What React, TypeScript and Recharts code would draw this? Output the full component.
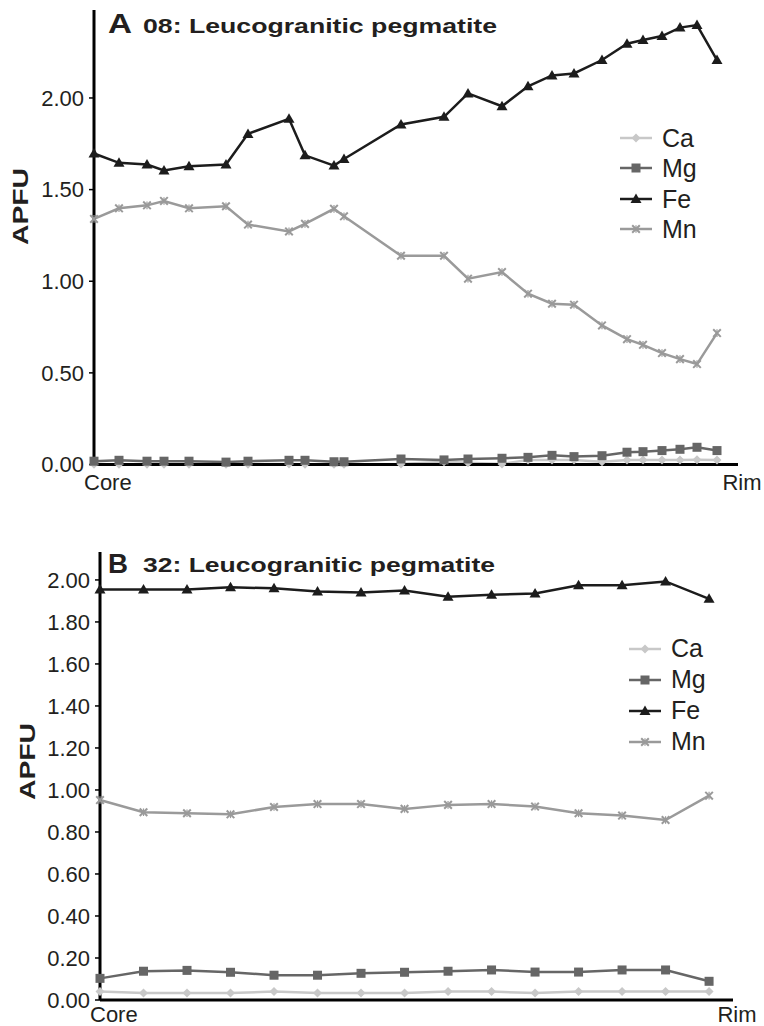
import React from 'react';
import { LineChart, Line, XAxis, YAxis, Legend } from 'recharts';

// ---- Panel A: sample 08, spots along the traverse (irregular spacing) ----
const distA = [0, 25, 53, 70, 95, 132, 154, 195, 211, 240, 250, 307, 350, 374, 408, 434, 458, 480, 508, 533, 549, 568, 586, 603, 623];
const caA = [0.002, 0.002, 0.002, 0.002, 0.002, 0.002, 0.002, 0.003, 0.002, 0.002, 0.002, 0.003, 0.015, 0.01, 0.003, 0.025, 0.025, 0.025, 0.015, 0.025, 0.025, 0.025, 0.025, 0.026, 0.025];
const mgA = [0.018, 0.023, 0.018, 0.018, 0.018, 0.013, 0.018, 0.023, 0.023, 0.015, 0.015, 0.03, 0.025, 0.03, 0.034, 0.039, 0.05, 0.043, 0.048, 0.067, 0.07, 0.076, 0.083, 0.094, 0.076];
const feA = [1.697, 1.646, 1.637, 1.604, 1.627, 1.637, 1.804, 1.886, 1.687, 1.631, 1.667, 1.855, 1.897, 2.025, 1.955, 2.064, 2.123, 2.134, 2.207, 2.296, 2.316, 2.338, 2.384, 2.398, 2.207];
const mnA = [1.34, 1.398, 1.414, 1.438, 1.398, 1.409, 1.309, 1.272, 1.313, 1.395, 1.354, 1.139, 1.139, 1.014, 1.05, 0.932, 0.877, 0.872, 0.759, 0.684, 0.653, 0.608, 0.575, 0.548, 0.717];
const traverseEndA = 644;
const yMaxA = 2.48;
const yTicksA = [0, 0.5, 1, 1.5, 2];

// ---- Panel B: sample 32, evenly spaced spots ----
const spotB = [0, 1, 2, 3, 4, 5, 6, 7, 8, 9, 10, 11, 12, 13, 14];
const caB = [0.04, 0.033, 0.033, 0.033, 0.04, 0.033, 0.033, 0.033, 0.04, 0.04, 0.033, 0.04, 0.04, 0.04, 0.04];
const mgB = [0.103, 0.137, 0.141, 0.132, 0.118, 0.118, 0.127, 0.132, 0.137, 0.143, 0.133, 0.133, 0.143, 0.143, 0.089];
const feB = [1.955, 1.955, 1.955, 1.965, 1.96, 1.945, 1.94, 1.95, 1.92, 1.93, 1.935, 1.975, 1.975, 1.993, 1.91];
const mnB = [0.952, 0.894, 0.889, 0.884, 0.919, 0.933, 0.933, 0.91, 0.929, 0.933, 0.921, 0.889, 0.878, 0.857, 0.973];
const traverseEndB = 14.55;
const yMaxB = 2.133;
const yTicksB = [0, 0.2, 0.4, 0.6, 0.8, 1.0, 1.2, 1.4, 1.6, 1.8, 2.0];

const edgeLabels = ['Core', 'Rim'];
const seriesNames = ['Ca', 'Mg', 'Fe', 'Mn'];

const FONT = '"Liberation Sans", Arial, Helvetica, sans-serif';
const TEXT = '#231f20';
const COLORS: Record<string, string> = { Ca: '#c8c8c8', Mg: '#666666', Fe: '#1c1c1c', Mn: '#9a9a9a' };

const rowsA = distA.map((d, i) => ({ d, Ca: caA[i], Mg: mgA[i], Fe: feA[i], Mn: mnA[i] }));
const rowsB = spotB.map((d, i) => ({ d, Ca: caB[i], Mg: mgB[i], Fe: feB[i], Mn: mnB[i] }));

// marker shapes, drawn around (cx, cy)
function markerPath(name: string, cx: number, cy: number): React.ReactNode {
  const c = COLORS[name];
  if (name === 'Ca') {
    const r = 4.5;
    return <path d={`M${cx},${cy - r}L${cx + r},${cy}L${cx},${cy + r}L${cx - r},${cy}Z`} fill={c} />;
  }
  if (name === 'Mg') {
    const r = 4.5;
    return <rect x={cx - r} y={cy - r} width={2 * r} height={2 * r} fill={c} />;
  }
  if (name === 'Fe') {
    return <path d={`M${cx},${cy - 5.5}L${cx + 5.5},${cy + 4}L${cx - 5.5},${cy + 4}Z`} fill={c} />;
  }
  const r = 3.8;
  return (
    <g stroke={c} strokeWidth={2}>
      <line x1={cx - r} y1={cy - r} x2={cx + r} y2={cy + r} />
      <line x1={cx - r} y1={cy + r} x2={cx + r} y2={cy - r} />
      <line x1={cx} y1={cy - r} x2={cx} y2={cy + r} strokeWidth={1.2} />
    </g>
  );
}

const makeDot = (name: string) => (props: any) => {
  const { cx, cy, index } = props;
  if (cx == null || cy == null) return <g key={`${name}-${index}`} />;
  return <g key={`${name}-${index}`}>{markerPath(name, cx, cy)}</g>;
};

const makeEdgeTick = (baseline: number) => (props: any) => {
  const { x, y, index } = props;
  const first = index === 0;
  return (
    <text
      x={x + (first ? -10 : 4)}
      y={y + baseline}
      textAnchor={first ? 'start' : 'middle'}
      fontSize={22}
      fontFamily={FONT}
      fill={TEXT}
    >
      {edgeLabels[first ? 0 : 1]}
    </text>
  );
};

const makeLegend = (rowH: number) => () => (
  <div style={{ fontFamily: FONT, color: TEXT }}>
    {seriesNames.map((n) => (
      <div key={n} style={{ display: 'flex', alignItems: 'center', height: rowH }}>
        <svg width={32} height={20} style={{ marginRight: 10 }}>
          <line x1={0} y1={10} x2={32} y2={10} stroke={COLORS[n]} strokeWidth={2.5} />
          {markerPath(n, 16, 10)}
        </svg>
        <span style={{ fontSize: 25, lineHeight: `${rowH}px` }}>{n}</span>
      </div>
    ))}
  </div>
);

const axisLine = { stroke: '#000', strokeWidth: 3 };
const tickStyle = { fontSize: 22, fill: TEXT, fontFamily: FONT };

function seriesLines() {
  return seriesNames.map((n) => (
    <Line
      key={n}
      type="linear"
      dataKey={n}
      stroke={COLORS[n]}
      strokeWidth={2.5}
      dot={makeDot(n)}
      activeDot={false}
      isAnimationActive={false}
      legendType="none"
    />
  ));
}

export default function App() {
  return (
    <div style={{ position: 'absolute', left: 0, top: 0, width: 764, height: 1026, background: '#fff', fontFamily: FONT }}>
      <div style={{ position: 'absolute', left: 0, top: 0 }}>
        <LineChart width={764} height={500} data={rowsA} margin={{ top: 10, right: 26, left: 0, bottom: 0 }}>
          <XAxis
            dataKey="d"
            type="number"
            domain={[0, traverseEndA]}
            ticks={[0, traverseEndA]}
            interval={0}
            height={35.5}
            axisLine={axisLine}
            tickLine={false}
            tickSize={0}
            tickMargin={0}
            tick={makeEdgeTick(25)}
          />
          <YAxis
            type="number"
            domain={[0, yMaxA]}
            ticks={yTicksA}
            interval={0}
            width={94}
            axisLine={axisLine}
            tickLine={{ stroke: '#000', strokeWidth: 1.5 }}
            tickSize={5}
            tickMargin={5}
            tick={tickStyle}
            tickFormatter={(v: number) => v.toFixed(2)}
          />
          {seriesLines()}
          <Legend
            layout="vertical"
            align="center"
            verticalAlign="middle"
            content={makeLegend(30.3)}
            wrapperStyle={{ position: 'absolute', left: 620, top: 123, width: 'auto', height: 'auto' }}
          />
        </LineChart>
      </div>

      <div style={{ position: 'absolute', left: 0, top: 530 }}>
        <LineChart width={764} height={496} data={rowsB} margin={{ top: 22, right: 31, left: 0, bottom: 0 }}>
          <XAxis
            dataKey="d"
            type="number"
            domain={[0, traverseEndB]}
            ticks={[0, traverseEndB]}
            interval={0}
            height={26}
            axisLine={axisLine}
            tickLine={false}
            tickSize={0}
            tickMargin={0}
            tick={makeEdgeTick(22)}
          />
          <YAxis
            type="number"
            domain={[0, yMaxB]}
            ticks={yTicksB}
            interval={0}
            width={100}
            axisLine={axisLine}
            tickLine={{ stroke: '#000', strokeWidth: 1.5 }}
            tickSize={5}
            tickMargin={5}
            tick={tickStyle}
            tickFormatter={(v: number) => v.toFixed(2)}
          />
          {seriesLines()}
          <Legend
            layout="vertical"
            align="center"
            verticalAlign="middle"
            content={makeLegend(31)}
            wrapperStyle={{ position: 'absolute', left: 629, top: 103, width: 'auto', height: 'auto' }}
          />
        </LineChart>
      </div>

      {/* panel titles and axis titles */}
      <svg width={764} height={1026} style={{ position: 'absolute', left: 0, top: 0, pointerEvents: 'none' }}>
        <g fontFamily={FONT} fontWeight="bold" fill={TEXT}>
          <text x={108} y={33.3} fontSize={27} textLength={24} lengthAdjust="spacingAndGlyphs">A</text>
          <text x={143} y={33.3} fontSize={20.5} textLength={354} lengthAdjust="spacingAndGlyphs">08: Leucogranitic pegmatite</text>
          <text x={108} y={572.5} fontSize={27} textLength={20} lengthAdjust="spacingAndGlyphs">B</text>
          <text x={143} y={572} fontSize={20.5} textLength={352} lengthAdjust="spacingAndGlyphs">32: Leucogranitic pegmatite</text>
          <text x={20} y={206.5} dy="0.36em" fontSize={22} textAnchor="middle" transform="rotate(-90 20 206.5)" textLength={77} lengthAdjust="spacingAndGlyphs">APFU</text>
          <text x={27} y={761.5} dy="0.36em" fontSize={22} textAnchor="middle" transform="rotate(-90 27 761.5)" textLength={77} lengthAdjust="spacingAndGlyphs">APFU</text>
        </g>
      </svg>
    </div>
  );
}
